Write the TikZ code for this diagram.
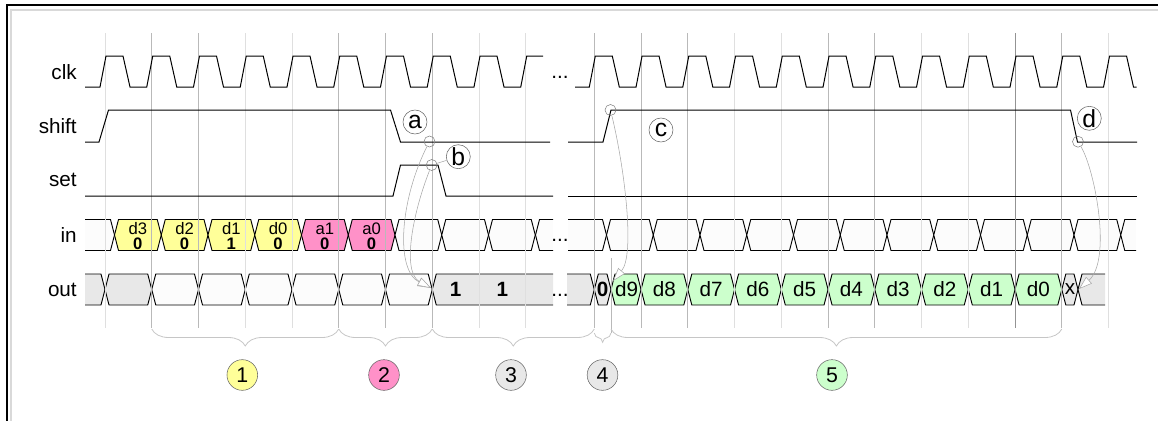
\documentclass[tikz,border=0pt]{standalone}
\usepackage{fontspec}
\setmainfont{Liberation Sans}
\usetikzlibrary{arrows.meta,decorations.pathreplacing}
\definecolor{cyel}{RGB}{255,255,153}
\definecolor{cpink}{RGB}{255,145,200}
\definecolor{cgrn}{RGB}{204,255,204}
\definecolor{cgry}{RGB}{232,232,232}
\definecolor{cwht}{RGB}{252,252,252}
\def\clkA{105}
\def\clkB{594.3}
\def\clkP{46.75}
\tikzstyle{sig}=[black,line width=0.75pt]
\tikzstyle{bus}=[black,line width=0.7pt]
\tikzstyle{gridln}=[line width=0.7pt]
\tikzstyle{rowlbl}=[anchor=east,inner sep=0pt,font=\fontsize{15.5}{18}\selectfont]
\tikzstyle{celltxt}=[inner sep=0pt,font=\fontsize{15.5}{18}\selectfont]
\tikzstyle{smalltxt}=[inner sep=0pt,align=center,font=\fontsize{12.5}{11.25}\selectfont]
\tikzstyle{lettag}=[circle,draw=gray!80!black,fill=white,minimum size=18pt,inner sep=0pt,font=\fontsize{18.5}{20}\selectfont]
\tikzstyle{smallring}=[circle,draw=gray,line width=0.4pt,minimum size=8.25pt,inner sep=0pt]
\tikzstyle{phasenum}=[circle,draw=gray!80!black,minimum size=23pt,inner sep=0pt,font=\fontsize{16}{18}\selectfont]
\tikzstyle{notearrow}=[gray!70,line width=0.4pt,-{Triangle[open,length=10pt,width=6.5pt,fill=white]}]
\tikzstyle{brc}=[gray!45,line width=0.6pt,decorate,decoration={brace,mirror,amplitude=12.75pt}]
\newcommand\buscell[4]{\filldraw[bus,fill=#4] ({#1},{#3}) -- ({#1+4},{#3-15.5}) -- ({#2-4},{#3-15.5}) -- ({#2},{#3}) -- ({#2-4},{#3+15.5}) -- ({#1+4},{#3+15.5}) -- cycle;}
\newcommand\busl[4]{\fill[#4] ({#1},{#3-15.5}) -- ({#2-4},{#3-15.5}) -- ({#2},{#3}) -- ({#2-4},{#3+15.5}) -- ({#1},{#3+15.5}) -- cycle;
  \draw[bus] ({#1},{#3-15.5}) -- ({#2-4},{#3-15.5}) -- ({#2},{#3}) -- ({#2-4},{#3+15.5}) -- ({#1},{#3+15.5});}
\newcommand\busr[4]{\fill[#4] ({#2},{#3-15.5}) -- ({#1+4},{#3-15.5}) -- ({#1},{#3}) -- ({#1+4},{#3+15.5}) -- ({#2},{#3+15.5}) -- cycle;
  \draw[bus] ({#2},{#3-15.5}) -- ({#1+4},{#3-15.5}) -- ({#1},{#3}) -- ({#1+4},{#3+15.5}) -- ({#2},{#3+15.5});}
\begin{document}
\begin{tikzpicture}[x=0.75pt,y=-0.75pt]
\useasboundingbox (0,0) rectangle (1158,421);
\draw[line width=2pt] (7,421) -- (7,5) -- (1158,5);
\draw[gray!30,line width=1.2pt] (10.7,421) -- (10.7,10) -- (1158,10);

\node[rowlbl] (lclk) at (77,72) {clk};
\node[rowlbl] (lshift) at (77,126) {shift};
\node[rowlbl] (lset) at (77,180) {set};
\node[rowlbl] (lin) at (77,235) {in};
\node[rowlbl] (lout) at (77,290) {out};

% in
\busl{85}{114.5}{235}{cwht}
\foreach \k/\c in {0/cyel,1/cyel,2/cyel,3/cyel,4/cpink,5/cpink,6/cwht,7/cwht,8/cwht}
  \buscell{114.5+\clkP*\k}{161.25+\clkP*\k}{235}{\c};
\busr{535.5}{553}{235}{cwht}
\busl{568}{606.5}{235}{cwht}
\foreach \k in {0,...,10}
  \buscell{606.5+\clkP*\k}{653.25+\clkP*\k}{235}{cwht};
\busr{1120.75}{1136}{235}{cwht}

% out
\busl{85}{105}{289.5}{cgry}
\buscell{105}{151.75}{289.5}{cgry}
\foreach \k in {1,...,6}
  \buscell{\clkA+\clkP*\k}{\clkA+\clkP*\k+\clkP}{289.5}{cwht};
\busr{432.25}{553}{289.5}{cgry}
\busl{567}{594.3}{289.5}{cgry}
\buscell{594.3}{611}{289.5}{cgry}
\buscell{611}{641.05}{289.5}{cgrn}
\foreach \k in {1,...,9}
  \buscell{\clkB+\clkP*\k}{\clkB+\clkP*\k+\clkP}{289.5}{cgrn};
\buscell{1061.8}{1078}{289.5}{cgry}
\busr{1078}{1105}{289.5}{cgry}

% grid
\foreach \k/\c in {0/25,1/55,2/55,3/25,4/25,5/55,6/55,7/55,8/25,9/25}
  \draw[gridln,gray!\c] ({\clkA+\clkP*\k},33) -- ({\clkA+\clkP*\k},328);
\foreach \k/\c in {0/55,1/55,2/55,3/25,4/25,5/55,6/55,7/25,8/25,9/85,10/55,11/25}
  \draw[gridln,gray!\c] ({\clkB+\clkP*\k},33) -- ({\clkB+\clkP*\k},328);
\draw[gridln,gray!55] (611,258) -- (611,333);

% clk, shift, set
\draw[sig] (85,87) foreach \k in {0,...,8} { -- ({\clkA+\clkP*\k-5},87) -- ({\clkA+\clkP*\k+1},56) -- ({\clkA+\clkP*\k+18},56) -- ({\clkA+\clkP*\k+25},87) } -- (520.75,87) -- (526.75,56) -- (543,56);
\draw[sig] (575,87) foreach \k in {0,...,10} { -- ({\clkB+\clkP*\k-5},87) -- ({\clkB+\clkP*\k+1},56) -- ({\clkB+\clkP*\k+18},56) -- ({\clkB+\clkP*\k+25},87) } -- (1103.55,87) -- (1109.55,56) -- (1126.55,56) -- (1133.5,87) -- (1136.7,87);
\draw[sig] (85,142) -- (99,142) -- (108.5,110) -- (390.5,110) -- (400.5,142) -- (550,142);
\draw[sig] (568,142) -- (603,142) -- (611,110) -- (1070.5,110) -- (1077.5,142) -- (1137,142);
\draw[sig] (85,196) -- (393,196) -- (400.5,165) -- (438,165) -- (446,196) -- (553,196);
\draw[sig] (568,196) -- (1137,196);

% cell texts
\foreach \k/\a/\b in {0/d3/0,1/d2/0,2/d1/1,3/d0/0,4/a1/0,5/a0/0}
  \node[smalltxt] (in-\a) at ({137.875+\clkP*\k},236) {\a\\\textbf{\b}};
\node[celltxt] (out-one-a) at (455.6,289.5) {\textbf{1}};
\node[celltxt] (out-one-b) at (502.4,289.5) {\textbf{1}};
\node[celltxt] (out-zero) at (602.6,289.5) {\textbf{0}};
\node[celltxt] (out-d9) at (626.5,289.5) {d9};
\foreach \k/\n in {1/d8,2/d7,3/d6,4/d5,5/d4,6/d3,7/d2,8/d1,9/d0}
  \node[celltxt] (out-\n) at ({617.675+\clkP*\k},289.5) {\n};
\node[celltxt] (out-x) at (1070,289.5) {x};
\node[celltxt] (dots-clk) at (560,77) {...};
\node[celltxt] (dots-in) at (560,240) {...};
\node[celltxt] (dots-out) at (560,295) {...};

% notes
\node[smallring] (sa) at (429.5,141.5) {};
\node[smallring] (sb) at (431.7,165) {};
\node[smallring] (sc) at (610.5,110) {};
\node[smallring] (sd) at (1078,141.7) {};
\node[lettag] (la) at (415,122) {a};
\node[lettag] (lb) at (458.3,156.7) {b};
\node[lettag] (lc) at (661,130) {c};
\node[lettag] (ld) at (1089.3,118.3) {d};
\draw[gray!70,line width=0.4pt] (lb) -- (sb);
\coordinate (ta) at (431,288);
\coordinate (tc) at (613,281);
\coordinate (td) at (1079,289);
\draw[notearrow] (sa) .. controls (400,200) and (395,270) .. (ta);
\draw[notearrow] (sb) .. controls (412,215) and (402,272) .. (ta);
\draw[notearrow] (sc) .. controls (625,170) and (635,255) .. (tc);
\draw[notearrow] (sd) .. controls (1095,170) and (1112,260) .. (td);

% phases
\draw[brc] (151.75,329) -- (338.75,329);
\draw[brc] (338.75,329) -- (432.25,329);
\draw[brc] (432.25,329) -- (594.3,329);
\draw[brc,decoration={brace,mirror,amplitude=7pt}] (594.3,333) -- (611,333);
\draw[brc] (611,329) -- (1061.8,329);
\node[phasenum,fill=cyel] (p1) at (242.3,375) {1};
\node[phasenum,fill=cpink] (p2) at (384,375) {2};
\node[phasenum,fill=cgry] (p3) at (511,375) {3};
\node[phasenum,fill=cgry] (p4) at (602.5,375) {4};
\node[phasenum,fill=cgrn] (p5) at (832,375) {5};
\end{tikzpicture}
\end{document}
